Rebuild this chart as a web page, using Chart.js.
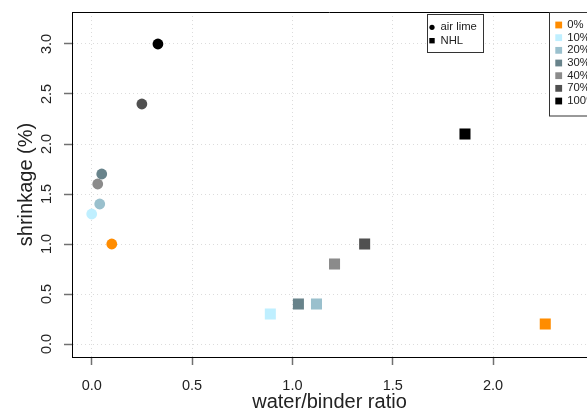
<!DOCTYPE html>
<html>
<head>
<meta charset="utf-8">
<script src="https://cdn.jsdelivr.net/npm/chart.js@4.4.0/dist/chart.umd.min.js"></script>
<style>
  html, body { margin: 0; padding: 0; background: #fff; }
  canvas { display: block; }
</style>
</head>
<body>
<canvas id="grafico" width="587" height="410"></canvas>
<script>
// Dados (categorias = teor de substituição)
const categorias = ['0%', '10%', '20%', '30%', '40%', '70%', '100%'];
const cores = ['#ff8c00', '#bfefff', '#9ac0cd', '#68838b', '#8b8b8b', '#505050', '#000000'];
const airLimeX = [0.10, 0.00, 0.04, 0.05, 0.03, 0.25, 0.33];
const airLimeY = [1.0, 1.3, 1.4, 1.7, 1.6, 2.4, 3.0];
const nhlX = [2.26, 0.89, 1.12, 1.03, 1.21, 1.36, 1.86];
const nhlY = [0.2, 0.3, 0.4, 0.4, 0.8, 1.0, 2.1];
const ticksX = [0, 0.5, 1.0, 1.5, 2.0];
const ticksY = [0, 0.5, 1.0, 1.5, 2.0, 2.5, 3.0];
const tipos = ['air lime', 'NHL'];

const fonte = '"Liberation Sans", Arial, Helvetica, sans-serif';

function pontos(xs, ys) {
    return xs.map((x, i) => ({ x: x, y: ys[i] }));
}

// zera os recuos automáticos dos rótulos, para a área do gráfico ficar fixa
function semRecuo(s) {
    s.paddingLeft = 0;
    s.paddingRight = 0;
    s.paddingTop = 0;
    s.paddingBottom = 0;
}

// Moldura superior e as duas legendas (desenhadas à mão, como no R)
const molduraLegendas = {
    id: 'molduraLegendas',
    afterDraw(chart) {
        const ctx = chart.ctx;
        const area = chart.chartArea;
        ctx.save();

        ctx.strokeStyle = '#000';
        ctx.lineWidth = 1;
        ctx.beginPath();
        ctx.moveTo(area.left, area.top + 0.5);
        ctx.lineTo(area.right, area.top + 0.5);
        ctx.stroke();

        ctx.font = '11.3px ' + fonte;
        ctx.textBaseline = 'middle';
        ctx.textAlign = 'left';

        // legenda dos símbolos
        ctx.fillStyle = '#fff';
        ctx.fillRect(427, 14, 56, 38);
        ctx.strokeStyle = '#333';
        ctx.strokeRect(427.5, 14.5, 56, 38);
        ctx.fillStyle = '#000';
        ctx.beginPath();
        ctx.arc(432, 27.3, 2.6, 0, Math.PI * 2);
        ctx.fill();
        ctx.fillRect(429.3, 38, 5.4, 5.4);
        ctx.fillStyle = '#222';
        ctx.fillText(tipos[0], 440.5, 27.3);
        ctx.fillText(tipos[1], 440.5, 40.7);

        // legenda das cores
        ctx.fillStyle = '#fff';
        ctx.fillRect(549, 12, 60, 104);
        ctx.strokeStyle = '#333';
        ctx.strokeRect(549.5, 12.5, 60, 103.5);
        categorias.forEach((c, i) => {
            const y = 25 + i * 12.67;
            ctx.fillStyle = cores[i];
            ctx.fillRect(555.3, y - 3.4, 6.8, 6.8);
            ctx.fillStyle = '#222';
            ctx.fillText(c, 567.3, y);
        });

        ctx.restore();
    }
};

const ctx = document.getElementById('grafico').getContext('2d');
const chart = new Chart(ctx, {
    type: 'scatter',
    data: {
        datasets: [
            {
                label: tipos[0],
                data: pontos(airLimeX, airLimeY),
                pointStyle: 'circle',
                pointRadius: 5.4,
                pointHoverRadius: 5.4,
                borderWidth: 0,
                backgroundColor: cores
            },
            {
                label: tipos[1],
                data: pontos(nhlX, nhlY),
                pointStyle: 'rect',
                pointRadius: 7.8,
                pointHoverRadius: 7.8,
                borderWidth: 0,
                backgroundColor: cores
            }
        ]
    },
    options: {
        responsive: false,
        animation: false,
        layout: { autoPadding: false, padding: { top: 12, right: 0, left: 0, bottom: 0 } },
        plugins: {
            legend: { display: false },
            tooltip: { enabled: false }
        },
        scales: {
            x: {
                type: 'linear',
                min: -0.0982,
                max: 2.468,
                afterBuildTicks: s => { s.ticks = ticksX.map(v => ({ value: v })); },
                afterFit: s => { s.height = 53; semRecuo(s); },
                grid: { color: '#dcdcdc', lineWidth: 1, tickColor: '#707070', tickLength: 8, tickWidth: 1.5 },
                border: { display: true, color: '#000', width: 1, dash: [1, 3] },
                ticks: {
                    autoSkip: false, minRotation: 0, maxRotation: 0, padding: 12,
                    color: '#222', font: { family: fonte, size: 14.5 },
                    callback: v => v.toFixed(1)
                },
                title: {
                    display: true, text: 'water/binder ratio', color: '#222',
                    font: { family: fonte, size: 20, lineHeight: 1 },
                    padding: { top: 0, bottom: -2 }
                }
            },
            y: {
                type: 'linear',
                min: -0.13,
                max: 3.32,
                afterBuildTicks: s => { s.ticks = ticksY.map(v => ({ value: v })); },
                afterFit: s => { s.width = 72; semRecuo(s); },
                grid: { color: '#dcdcdc', lineWidth: 1, tickColor: '#707070', tickLength: 8, tickWidth: 1.5 },
                border: { display: true, color: '#000', width: 1, dash: [1, 3] },
                ticks: {
                    autoSkip: false, minRotation: 90, maxRotation: 90, padding: 7,
                    crossAlign: 'center',
                    color: '#222', font: { family: fonte, size: 14.5 },
                    callback: v => v.toFixed(1)
                },
                title: {
                    display: true, text: 'shrinkage (%)', color: '#222',
                    font: { family: fonte, size: 20, lineHeight: 1 },
                    padding: { top: 16, bottom: 0 }
                }
            }
        }
    },
    plugins: [molduraLegendas]
});
</script>
</body>
</html>
